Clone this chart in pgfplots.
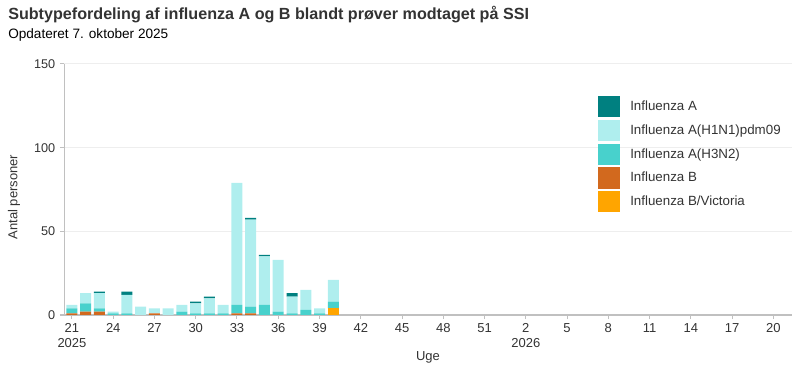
\documentclass[border=0pt]{standalone}
\usepackage{fontspec}
\setmainfont{Liberation Sans}
\usepackage{pgfplots}
\usepackage{pgfplotstable}
\pgfplotsset{compat=1.18}
\definecolor{cA}{HTML}{008080}
\definecolor{cHa}{HTML}{AFEEEE}
\definecolor{cHb}{HTML}{48D1CC}
\definecolor{cB}{HTML}{D2691E}
\definecolor{cBV}{HTML}{FFA500}
\definecolor{txt}{HTML}{333333}
\definecolor{axl}{HTML}{C0C0C0}
\definecolor{grd}{HTML}{EEEEEE}

\pgfplotstableread{
x BV B H3 H1 A
0 0 1 3 2 0
1 0 2 5 6 0
2 0 2 2 9 1
3 0 0 1 1 0
4 0 0 1 11 2
5 0 0 0 5 0
6 0 1 0 3 0
7 0 0 0 4 0
8 0 0 2 4 0
9 0 0 1 6 1
10 0 0 1 9 1
11 0 0 1 5 0
12 0 1 5 73 0
13 0 1 4 52 1
14 0 0 6 29 1
15 0 0 2 31 0
16 0 0 1 10 2
17 0 0 3 12 0
18 0 0 1 3 0
19 4 0 4 13 0
}\fludata

\begin{document}
\begin{tikzpicture}
\path[use as bounding box] (0,0) rectangle (600pt,281.25pt);
\node[anchor=base west, font=\bfseries\fontsize{12.1pt}{14pt}\selectfont, text=txt, inner sep=0pt] at (6pt,266.6pt) {Subtypefordeling af influenza A og B blandt prøver modtaget på SSI};
\node[anchor=base west, font=\fontsize{10.2pt}{12pt}\selectfont, text=black, inner sep=0pt] at (6pt,252pt) {Opdateret 7. oktober 2025};
\begin{axis}[
  at={(48pt,45pt)}, anchor=south west,
  scale only axis, width=546pt, height=188.25pt,
  ybar stacked, bar width=8.25pt,
  xmin=-0.58, xmax=52.36, ymin=0, ymax=150,
  axis x line=bottom, axis y line=left,
  axis line style={draw=axl, line width=0.75pt, -},
  tick align=outside, major tick length=3pt,
  tick style={draw=axl, line width=0.75pt},
  xtick={0,3,...,51},
  xticklabels={{21\\2025},24,27,30,33,36,39,42,45,48,51,{2\\2026},5,8,11,14,17,20},
  xticklabel style={align=center, font=\fontsize{9.75pt}{11.25pt}\selectfont, text=txt},
  ytick={0,50,100,150},
  yticklabel style={font=\fontsize{9.5pt}{11pt}\selectfont, text=txt},
  /pgf/number format/assume math mode=true,
  ymajorgrids, grid style={draw=grd, line width=0.75pt},
  xlabel={Uge}, ylabel={Antal personer},
  every axis x label/.style={at={(axis description cs:0.5,0)}, yshift=-31.5pt, anchor=center, font=\fontsize{9.75pt}{12pt}\selectfont, text=txt},
  every axis y label/.style={at={(axis description cs:0,0.47)}, xshift=-37.5pt, rotate=90, anchor=center, font=\fontsize{9.75pt}{12pt}\selectfont, text=txt},
  reverse legend,
  legend cell align=left,
  legend image code/.code={\fill[#1] (0pt,-7.9pt) rectangle (16.5pt,7.9pt);},
  legend style={at={(0.7335,0.8725)}, anchor=north west, draw=none, fill=none, inner sep=0pt, row sep=2pt, column sep=7.5pt, nodes={inner sep=0pt}, font=\fontsize{10pt}{12pt}\selectfont, text=txt},
]
\addplot[fill=cBV, draw=none] table[x=x, y=BV] {\fludata};
\addlegendentry{Influenza B/Victoria}
\addplot[fill=cB, draw=none] table[x=x, y=B] {\fludata};
\addlegendentry{Influenza B}
\addplot[fill=cHb, draw=none] table[x=x, y=H3] {\fludata};
\addlegendentry{Influenza A(H3N2)}
\addplot[fill=cHa, draw=none] table[x=x, y=H1] {\fludata};
\addlegendentry{Influenza A(H1N1)pdm09}
\addplot[fill=cA, draw=none] table[x=x, y=A] {\fludata};
\addlegendentry{Influenza A}
\end{axis}
\end{tikzpicture}
\end{document}
